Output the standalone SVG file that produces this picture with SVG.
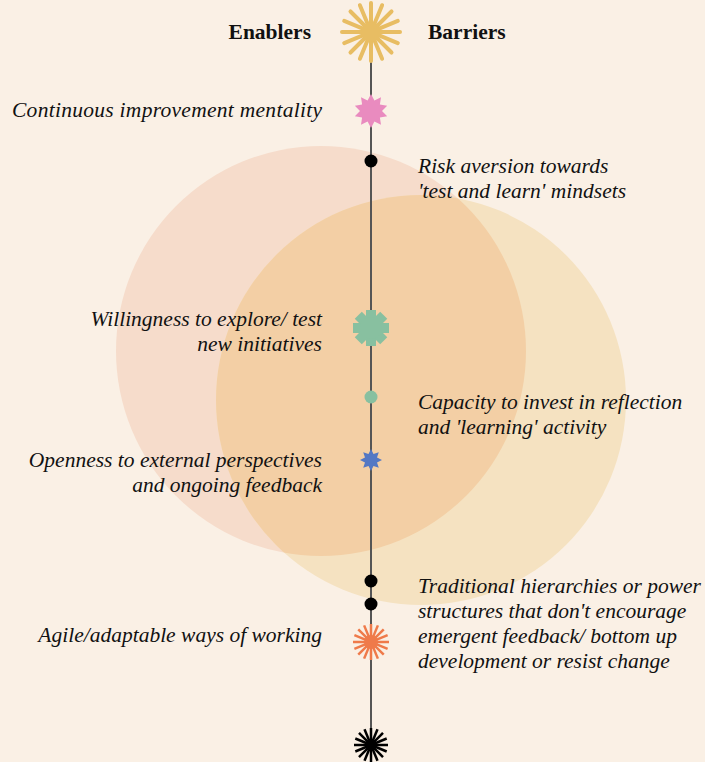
<svg xmlns="http://www.w3.org/2000/svg" width="705" height="762" viewBox="0 0 705 762">
<style>
.t{font-family:"Liberation Serif","DejaVu Serif",serif;font-style:italic;font-size:21.5px;fill:#111;}
.l{text-anchor:end;}
.h{font-family:"Liberation Serif","DejaVu Serif",serif;font-weight:bold;font-size:21.5px;fill:#111;}
</style>
<defs>
<clipPath id="cl"><circle cx="321" cy="351" r="205"/></clipPath>
</defs>
<rect width="705" height="762" fill="#faf0e5"/>
<g id="circles">
<circle cx="321" cy="351" r="205" fill="#f6dccb"/>
<circle cx="421" cy="400" r="205" fill="#f5e2c1"/>
<circle cx="421" cy="400" r="205" fill="#f3cfa5" clip-path="url(#cl)"/>
</g>
<g id="connectors">
<line x1="371" y1="50" x2="371" y2="738" stroke="#555" stroke-width="2"/>
</g>
<g id="sun-top" transform="translate(371,32)" stroke="#e8bd63" stroke-width="4" stroke-linecap="round">
<line x1="0" y1="-29" x2="0" y2="29"/>
<line x1="0" y1="-29" x2="0" y2="29" transform="rotate(22.5)"/>
<line x1="0" y1="-29" x2="0" y2="29" transform="rotate(45)"/>
<line x1="0" y1="-29" x2="0" y2="29" transform="rotate(67.5)"/>
<line x1="0" y1="-29" x2="0" y2="29" transform="rotate(90)"/>
<line x1="0" y1="-29" x2="0" y2="29" transform="rotate(112.5)"/>
<line x1="0" y1="-29" x2="0" y2="29" transform="rotate(135)"/>
<line x1="0" y1="-29" x2="0" y2="29" transform="rotate(157.5)"/>
<circle r="10" fill="#e8bd63" stroke="none"/>
</g>
<g id="headers">
<text class="h" x="311" y="39" text-anchor="end">Enablers</text>
<text class="h" x="428" y="39">Barriers</text>
</g>
<g id="n-continuous">
<polygon transform="translate(371,111)" fill="#e98bbf" points="0,-17 3.4,-10.46 10,-13.75 8.9,-6.47 16.17,-5.25 11,0 16.17,5.25 8.9,6.47 10,13.75 3.4,10.46 0,17 -3.4,10.46 -10,13.75 -8.9,6.47 -16.17,5.25 -11,0 -16.17,-5.25 -8.9,-6.47 -10,-13.75 -3.4,-10.46"/>
<text class="t l" x="322" y="117" textLength="310">Continuous improvement mentality</text>
</g>
<g id="n-risk">
<circle cx="371" cy="161" r="6.5" fill="#000"/>
<text class="t" x="418" y="173">Risk aversion towards</text>
<text class="t" x="418" y="198">'test and learn' mindsets</text>
</g>
<g id="n-willingness">
<g transform="translate(371,328)" fill="#88c0a0">
<rect x="-5" y="-18" width="10" height="36"/>
<rect x="-5" y="-18" width="10" height="36" transform="rotate(45)"/>
<rect x="-5" y="-18" width="10" height="36" transform="rotate(90)"/>
<rect x="-5" y="-18" width="10" height="36" transform="rotate(135)"/>
<circle r="11"/>
</g>
<text class="t l" x="322" y="326">Willingness to explore/ test</text>
<text class="t l" x="322" y="351">new initiatives</text>
</g>
<g id="n-capacity">
<circle cx="371" cy="397" r="6.5" fill="#88c0a0"/>
<text class="t" x="418" y="409">Capacity to invest in reflection</text>
<text class="t" x="418" y="434">and 'learning' activity</text>
</g>
<g id="n-openness">
<polygon transform="translate(371,460)" fill="#5478c4" points="0,-11 2.49,-6.01 7.78,-7.78 6.01,-2.49 11,0 6.01,2.49 7.78,7.78 2.49,6.01 0,11 -2.49,6.01 -7.78,7.78 -6.01,2.49 -11,0 -6.01,-2.49 -7.78,-7.78 -2.49,-6.01"/>
<text class="t l" x="322" y="467">Openness to external perspectives</text>
<text class="t l" x="322" y="492">and ongoing feedback</text>
</g>
<g id="n-traditional">
<circle cx="371" cy="581" r="6.5" fill="#000"/>
<circle cx="371" cy="604" r="6.5" fill="#000"/>
<text class="t" x="418" y="593">Traditional hierarchies or power</text>
<text class="t" x="418" y="618">structures that don't encourage</text>
<text class="t" x="418" y="643">emergent feedback/ bottom up</text>
<text class="t" x="418" y="668">development or resist change</text>
</g>
<g id="n-agile">
<g transform="translate(371,642)" stroke="#ef7a4a" stroke-width="2.5">
<line x1="0" y1="-18" x2="0" y2="18"/>
<line x1="0" y1="-18" x2="0" y2="18" transform="rotate(22.5)"/>
<line x1="0" y1="-18" x2="0" y2="18" transform="rotate(45)"/>
<line x1="0" y1="-18" x2="0" y2="18" transform="rotate(67.5)"/>
<line x1="0" y1="-18" x2="0" y2="18" transform="rotate(90)"/>
<line x1="0" y1="-18" x2="0" y2="18" transform="rotate(112.5)"/>
<line x1="0" y1="-18" x2="0" y2="18" transform="rotate(135)"/>
<line x1="0" y1="-18" x2="0" y2="18" transform="rotate(157.5)"/>
<circle r="7" fill="#ef7a4a" stroke="none"/>
</g>
<text class="t l" x="322" y="642">Agile/adaptable ways of working</text>
</g>
<g id="sun-bottom" transform="translate(371,745)" stroke="#000" stroke-width="2.5">
<line x1="0" y1="-17" x2="0" y2="17"/>
<line x1="0" y1="-17" x2="0" y2="17" transform="rotate(22.5)"/>
<line x1="0" y1="-17" x2="0" y2="17" transform="rotate(45)"/>
<line x1="0" y1="-17" x2="0" y2="17" transform="rotate(67.5)"/>
<line x1="0" y1="-17" x2="0" y2="17" transform="rotate(90)"/>
<line x1="0" y1="-17" x2="0" y2="17" transform="rotate(112.5)"/>
<line x1="0" y1="-17" x2="0" y2="17" transform="rotate(135)"/>
<line x1="0" y1="-17" x2="0" y2="17" transform="rotate(157.5)"/>
<circle r="6" fill="#000" stroke="none"/>
</g>
</svg>
